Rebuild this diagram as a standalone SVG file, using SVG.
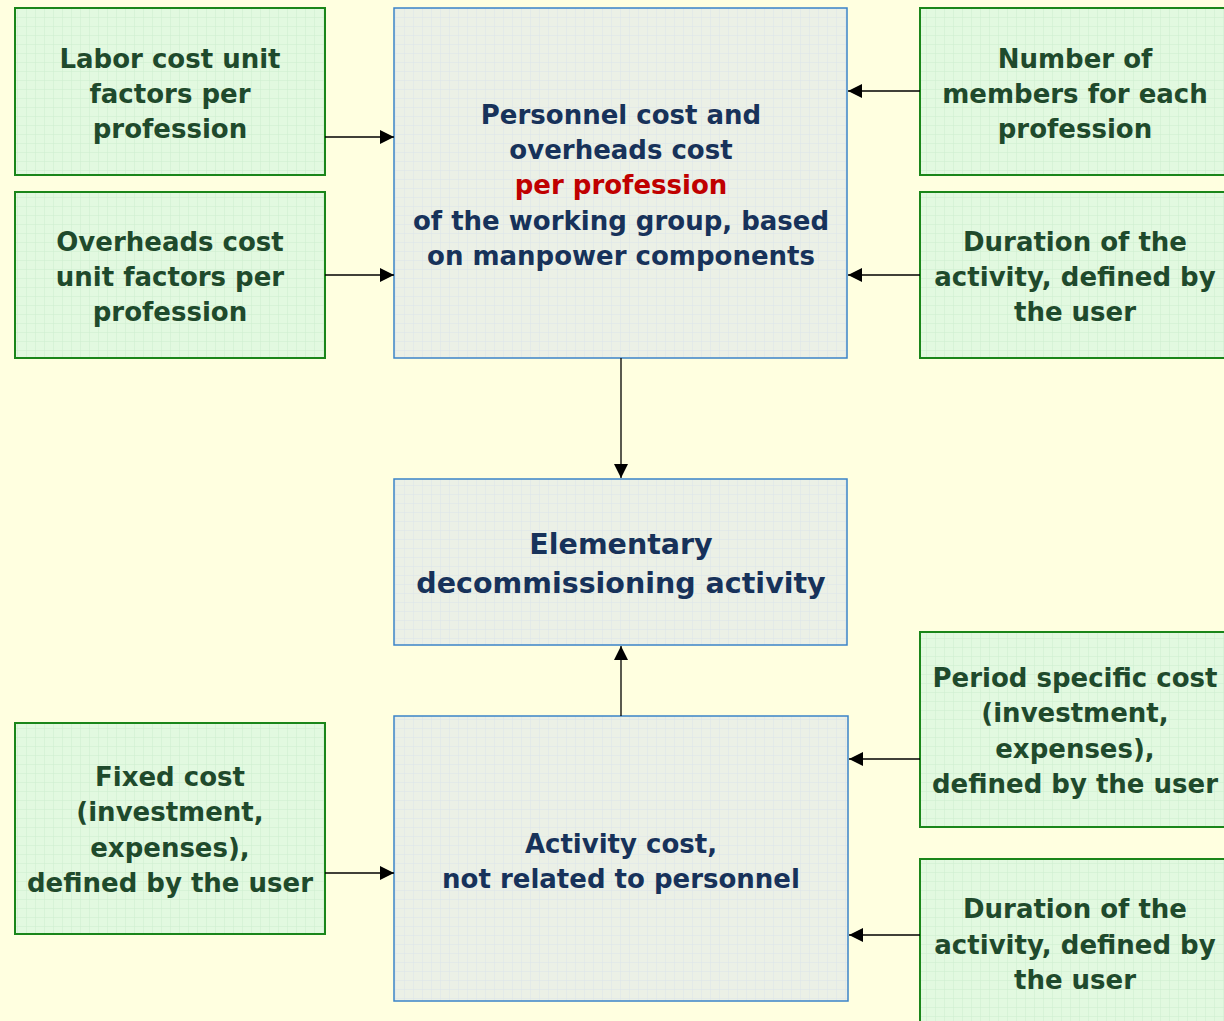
<svg xmlns="http://www.w3.org/2000/svg" width="1224" height="1021" viewBox="0 0 1224 1021">
<defs>
<pattern id="gridG" width="9" height="9" patternUnits="userSpaceOnUse">
<rect width="9" height="9" fill="#e2f9e0"/>
<path d="M9 0V9M0 9H9" stroke="#cdeecf" stroke-width="1" fill="none"/>
</pattern>
<pattern id="gridB" width="9" height="9" patternUnits="userSpaceOnUse">
<rect width="9" height="9" fill="#ebf0e6"/>
<path d="M9 0V9M0 9H9" stroke="#dbe4ea" stroke-width="1" fill="none"/>
</pattern>
<marker id="arr" markerWidth="14" markerHeight="14" viewBox="0 0 14 14" refX="14" refY="7" orient="auto" markerUnits="userSpaceOnUse">
<path d="M0 0L14 7L0 14Z" fill="#000"/>
</marker>
</defs>
<style>
.g{fill:url(#gridG);stroke:#1a861a;stroke-width:2}
.b{fill:url(#gridB);stroke:#3b84c8;stroke-width:1.5}
.tg{font-family:"DejaVu Sans",Verdana,sans-serif;font-weight:bold;font-size:26px;fill:#1f4a2c;text-anchor:middle}
.tb{font-family:"DejaVu Sans",Verdana,sans-serif;font-weight:bold;font-size:26px;fill:#17325a;text-anchor:middle}
.tl{font-size:28.5px}
.red{fill:#c00000}
.c{stroke:#000;stroke-width:1.3;fill:none;marker-end:url(#arr)}
</style>
<rect width="1224" height="1021" fill="#ffffe0"/>

<g id="n-labor">
<rect class="g" x="15" y="8" width="310" height="167"/>
<text class="tg"><tspan x="170" y="68">Labor cost unit</tspan><tspan x="170" y="103">factors per</tspan><tspan x="170" y="138">profession</tspan></text>
</g>
<g id="n-overheads">
<rect class="g" x="15" y="192" width="310" height="166"/>
<text class="tg"><tspan x="170" y="251">Overheads cost</tspan><tspan x="170" y="286">unit factors per</tspan><tspan x="170" y="321">profession</tspan></text>
</g>
<g id="n-personnel">
<rect class="b" x="394" y="8" width="453" height="350"/>
<text class="tb"><tspan x="621" y="124">Personnel cost and</tspan><tspan x="621" y="159">overheads cost</tspan><tspan class="red" x="621" y="194">per profession</tspan><tspan x="621" y="230">of the working group, based</tspan><tspan x="621" y="265">on manpower components</tspan></text>
</g>
<g id="n-members">
<rect class="g" x="920" y="8" width="320" height="167"/>
<text class="tg"><tspan x="1075" y="68">Number of</tspan><tspan x="1075" y="103">members for each</tspan><tspan x="1075" y="138">profession</tspan></text>
</g>
<g id="n-duration1">
<rect class="g" x="920" y="192" width="320" height="166"/>
<text class="tg"><tspan x="1075" y="251">Duration of the</tspan><tspan x="1075" y="286">activity, defined by</tspan><tspan x="1075" y="321">the user</tspan></text>
</g>
<g id="n-elementary">
<rect class="b" x="394" y="479" width="453" height="166"/>
<text class="tb tl"><tspan x="621" y="554">Elementary</tspan><tspan x="621" y="593">decommissioning activity</tspan></text>
</g>
<g id="n-period">
<rect class="g" x="920" y="632" width="320" height="195"/>
<text class="tg"><tspan x="1075" y="687">Period specific cost</tspan><tspan x="1075" y="722">(investment,</tspan><tspan x="1075" y="758">expenses),</tspan><tspan x="1075" y="793">defined by the user</tspan></text>
</g>
<g id="n-fixed">
<rect class="g" x="15" y="723" width="310" height="211"/>
<text class="tg"><tspan x="170" y="786">Fixed cost</tspan><tspan x="170" y="821">(investment,</tspan><tspan x="170" y="857">expenses),</tspan><tspan x="170" y="892">defined by the user</tspan></text>
</g>
<g id="n-activity">
<rect class="b" x="394" y="716" width="454" height="285"/>
<text class="tb"><tspan x="621" y="853">Activity cost,</tspan><tspan x="621" y="888">not related to personnel</tspan></text>
</g>
<g id="n-duration2">
<rect class="g" x="920" y="859" width="320" height="180"/>
<text class="tg"><tspan x="1075" y="918">Duration of the</tspan><tspan x="1075" y="954">activity, defined by</tspan><tspan x="1075" y="989">the user</tspan></text>
</g>

<g id="connectors">
<path class="c" d="M325 137H394"/>
<path class="c" d="M325 275H394"/>
<path class="c" d="M920 91H848"/>
<path class="c" d="M920 275H848"/>
<path class="c" d="M621 358V478"/>
<path class="c" d="M621 716V646"/>
<path class="c" d="M325 873H394"/>
<path class="c" d="M920 759H849"/>
<path class="c" d="M920 935H849"/>
</g>
</svg>
